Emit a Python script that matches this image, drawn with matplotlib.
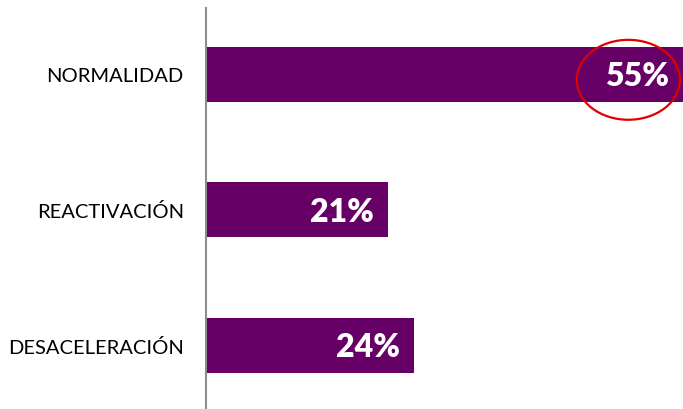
import matplotlib.pyplot as plt
from matplotlib.patches import Ellipse

categories = ["NORMALIDAD", "REACTIVACIÓN", "DESACELERACIÓN"]
values = [55, 21, 24]
labels = ["55%", "21%", "24%"]

plt.rcParams["font.family"] = ["Lato", "DejaVu Sans"]

fig = plt.figure(figsize=(6.83, 4.10), dpi=100)
ax = fig.add_axes([206 / 683, 0, 1 - 206 / 683, 401 / 410])

ypos = list(range(len(categories)))
ax.barh(ypos, values, height=0.406, color="#660066", zorder=2)
ax.set_xlim(0, 55)
ax.set_ylim(2.47, -0.49)

for y, v, lab in zip(ypos, values, labels):
    ax.annotate(lab, (v, y), xytext=(-10, -1), textcoords="offset points",
                ha="right", va="center", color="white",
                fontsize=23, fontweight="heavy", zorder=3)

# red circle around the highlighted value
ax.add_patch(Ellipse((values[0] - 6.3, ypos[0] + 0.04), 11.9, 0.59,
                     fill=False, edgecolor="#E00000", lw=1.6, zorder=4,
                     clip_on=False))

ax.set_yticks(ypos)
ax.set_yticklabels(categories, fontsize=14.5)
ax.tick_params(axis="y", length=0, pad=16)
ax.set_xticks([])
for side in ["top", "right", "bottom"]:
    ax.spines[side].set_visible(False)
ax.spines["left"].set_color("#8c8c8c")
ax.spines["left"].set_linewidth(1.5)

fig.savefig("out.png", dpi=100)
